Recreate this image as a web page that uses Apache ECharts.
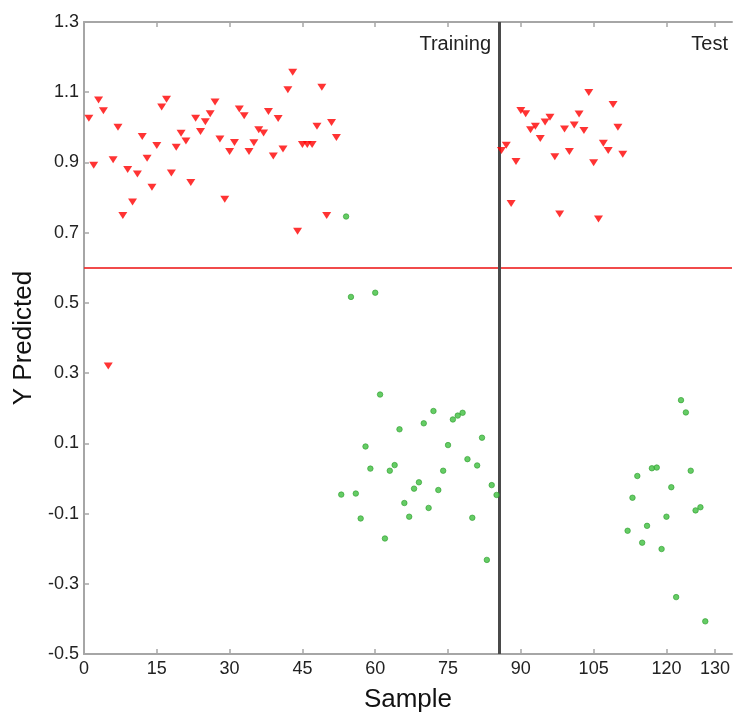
<!DOCTYPE html>
<html>
<head>
<meta charset="utf-8">
<script src="https://cdn.jsdelivr.net/npm/echarts@6/dist/echarts.min.js"></script>
<style>
  html, body { margin: 0; padding: 0; background: #fff; }
  #chart { width: 733px; height: 718px; }
</style>
</head>
<body>
<div id="chart"></div>
<script>
// Sample numbers and predicted Y for each class, split into training and test sets
const redTrainX = [1,2,3,4,5,6,7,8,9,10,11,12,13,14,15,16,17,18,19,20,21,22,23,24,25,26,
  27,28,29,30,31,32,33,34,35,36,37,38,39,40,41,42,43,44,45,46,47,48,49,50,51,52];
const redTrainY = [1.026,0.892,1.078,1.047,0.320,0.908,1.000,0.749,0.880,0.787,0.867,0.974,
  0.912,0.829,0.948,1.058,1.080,0.870,0.943,0.983,0.961,0.843,1.026,0.988,1.016,1.039,
  1.072,0.967,0.795,0.931,0.957,1.052,1.033,0.931,0.956,0.993,0.984,1.045,0.918,1.025,
  0.938,1.107,1.157,0.704,0.951,0.951,0.951,1.003,1.114,0.749,1.014,0.971];

const greenTrainX = [53,54,55,56,57,58,59,60,61,62,63,64,65,66,67,68,69,70,71,72,73,74,
  75,76,77,78,79,80,81,82,83,84,85];
const greenTrainY = [-0.046,0.746,0.517,-0.043,-0.114,0.091,0.028,0.529,0.239,-0.171,0.022,
  0.038,0.140,-0.070,-0.109,-0.029,-0.011,0.157,-0.084,0.192,-0.033,0.022,0.095,0.168,
  0.179,0.187,0.055,-0.112,0.037,0.116,-0.232,-0.019,-0.047];

const redTestX = [86,87,88,89,90,91,92,93,94,95,96,97,98,99,100,101,102,103,104,105,106,
  107,108,109,110,111];
const redTestY = [0.934,0.949,0.783,0.903,1.048,1.039,0.993,1.003,0.968,1.015,1.029,0.916,
  0.753,0.995,0.931,1.007,1.038,0.991,1.099,0.899,0.739,0.955,0.934,1.065,1.000,0.923];

const greenTestX = [112,113,114,115,116,117,118,119,120,121,122,123,124,125,126,127,128];
const greenTestY = [-0.149,-0.055,0.007,-0.183,-0.135,0.029,0.031,-0.201,-0.109,-0.025,
  -0.338,0.223,0.188,0.022,-0.091,-0.082,-0.407];

// Tick positions and reference lines
const xTicks = [0,15,30,45,60,75,90,105,120,130];
const yTicks = [-0.5,-0.3,-0.1,0.1,0.3,0.5,0.7,0.9,1.1,1.3];
const splitSample = 85.5;   // boundary between training and test samples
const threshold = 0.6;      // class decision threshold

function pairs(xs, ys) { return xs.map((x, i) => [x, ys[i]]); }

const FONT = '"Liberation Sans", Arial, Helvetica, sans-serif';
const AXIS_GRAY = '#a6a6a6';

const chart = echarts.init(document.getElementById('chart'), null, { renderer: 'canvas' });

const triangle = {
  type: 'scatter', symbol: 'triangle', symbolRotate: 180, symbolSize: [9, 7],
  itemStyle: { color: '#ff0000' }, z: 5, silent: true
};
const dot = {
  type: 'scatter', symbol: 'circle', symbolSize: 5.5,
  itemStyle: { color: '#3fbf3f', borderColor: '#2e9e2e', borderWidth: 0.8 }, z: 5, silent: true
};

chart.setOption({
  animation: false,
  backgroundColor: '#ffffff',
  grid: { left: 84, top: 22, right: 0, bottom: 62 },
  xAxis: [{
    type: 'value', min: 0, max: 133.5, position: 'bottom',
    name: 'Sample', nameLocation: 'middle', nameGap: 33,
    nameTextStyle: { fontFamily: FONT, fontSize: 26, color: '#111' },
    axisLine: { show: true, onZero: false, lineStyle: { color: AXIS_GRAY, width: 2 } },
    axisTick: { show: true, inside: true, length: 5, customValues: xTicks,
      lineStyle: { color: AXIS_GRAY, width: 1.5 } },
    axisLabel: { customValues: xTicks, margin: 6, fontFamily: FONT, fontSize: 18, color: '#222' },
    splitLine: { show: false }
  }, {
    type: 'value', min: 0, max: 133.5, position: 'top',
    axisLine: { show: true, onZero: false, lineStyle: { color: AXIS_GRAY, width: 2 } },
    axisTick: { show: true, inside: true, length: 5, customValues: xTicks,
      lineStyle: { color: AXIS_GRAY, width: 1.5 } },
    axisLabel: { show: false },
    splitLine: { show: false }
  }],
  yAxis: {
    type: 'value', min: -0.5, max: 1.3,
    name: 'Y Predicted', nameLocation: 'middle', nameGap: 46, nameRotate: 90,
    nameTextStyle: { fontFamily: FONT, fontSize: 26, color: '#111' },
    axisLine: { show: true, onZero: false, lineStyle: { color: AXIS_GRAY, width: 2 } },
    axisTick: { show: true, inside: true, length: 5, customValues: yTicks,
      lineStyle: { color: AXIS_GRAY, width: 1.5 } },
    axisLabel: { customValues: yTicks, margin: 5, fontFamily: FONT, fontSize: 18, color: '#222' },
    splitLine: { show: false }
  },
  series: [
    {
      type: 'scatter', data: [], silent: true, z: 2,
      markLine: {
        silent: true, symbol: 'none', animation: false,
        label: { show: false },
        data: [
          { yAxis: threshold, lineStyle: { color: '#ee2b2b', width: 2, type: 'solid', opacity: 0.85 } },
          { xAxis: splitSample, lineStyle: { color: '#4a4a4a', width: 3, type: 'solid' } }
        ]
      }
    },
    Object.assign({ name: 'Training class 1', data: pairs(redTrainX, redTrainY) }, triangle),
    Object.assign({ name: 'Training class 2', data: pairs(greenTrainX, greenTrainY) }, dot),
    Object.assign({ name: 'Test class 1', data: pairs(redTestX, redTestY) }, triangle),
    Object.assign({ name: 'Test class 2', data: pairs(greenTestX, greenTestY) }, dot)
  ],
  graphic: [
    { type: 'text', right: 733 - 491, top: 34,
      style: { text: 'Training', fontFamily: FONT, fontSize: 20, fill: '#222' } },
    { type: 'text', right: 5, top: 34,
      style: { text: 'Test', fontFamily: FONT, fontSize: 20, fill: '#222' } }
  ]
});
</script>
</body>
</html>
